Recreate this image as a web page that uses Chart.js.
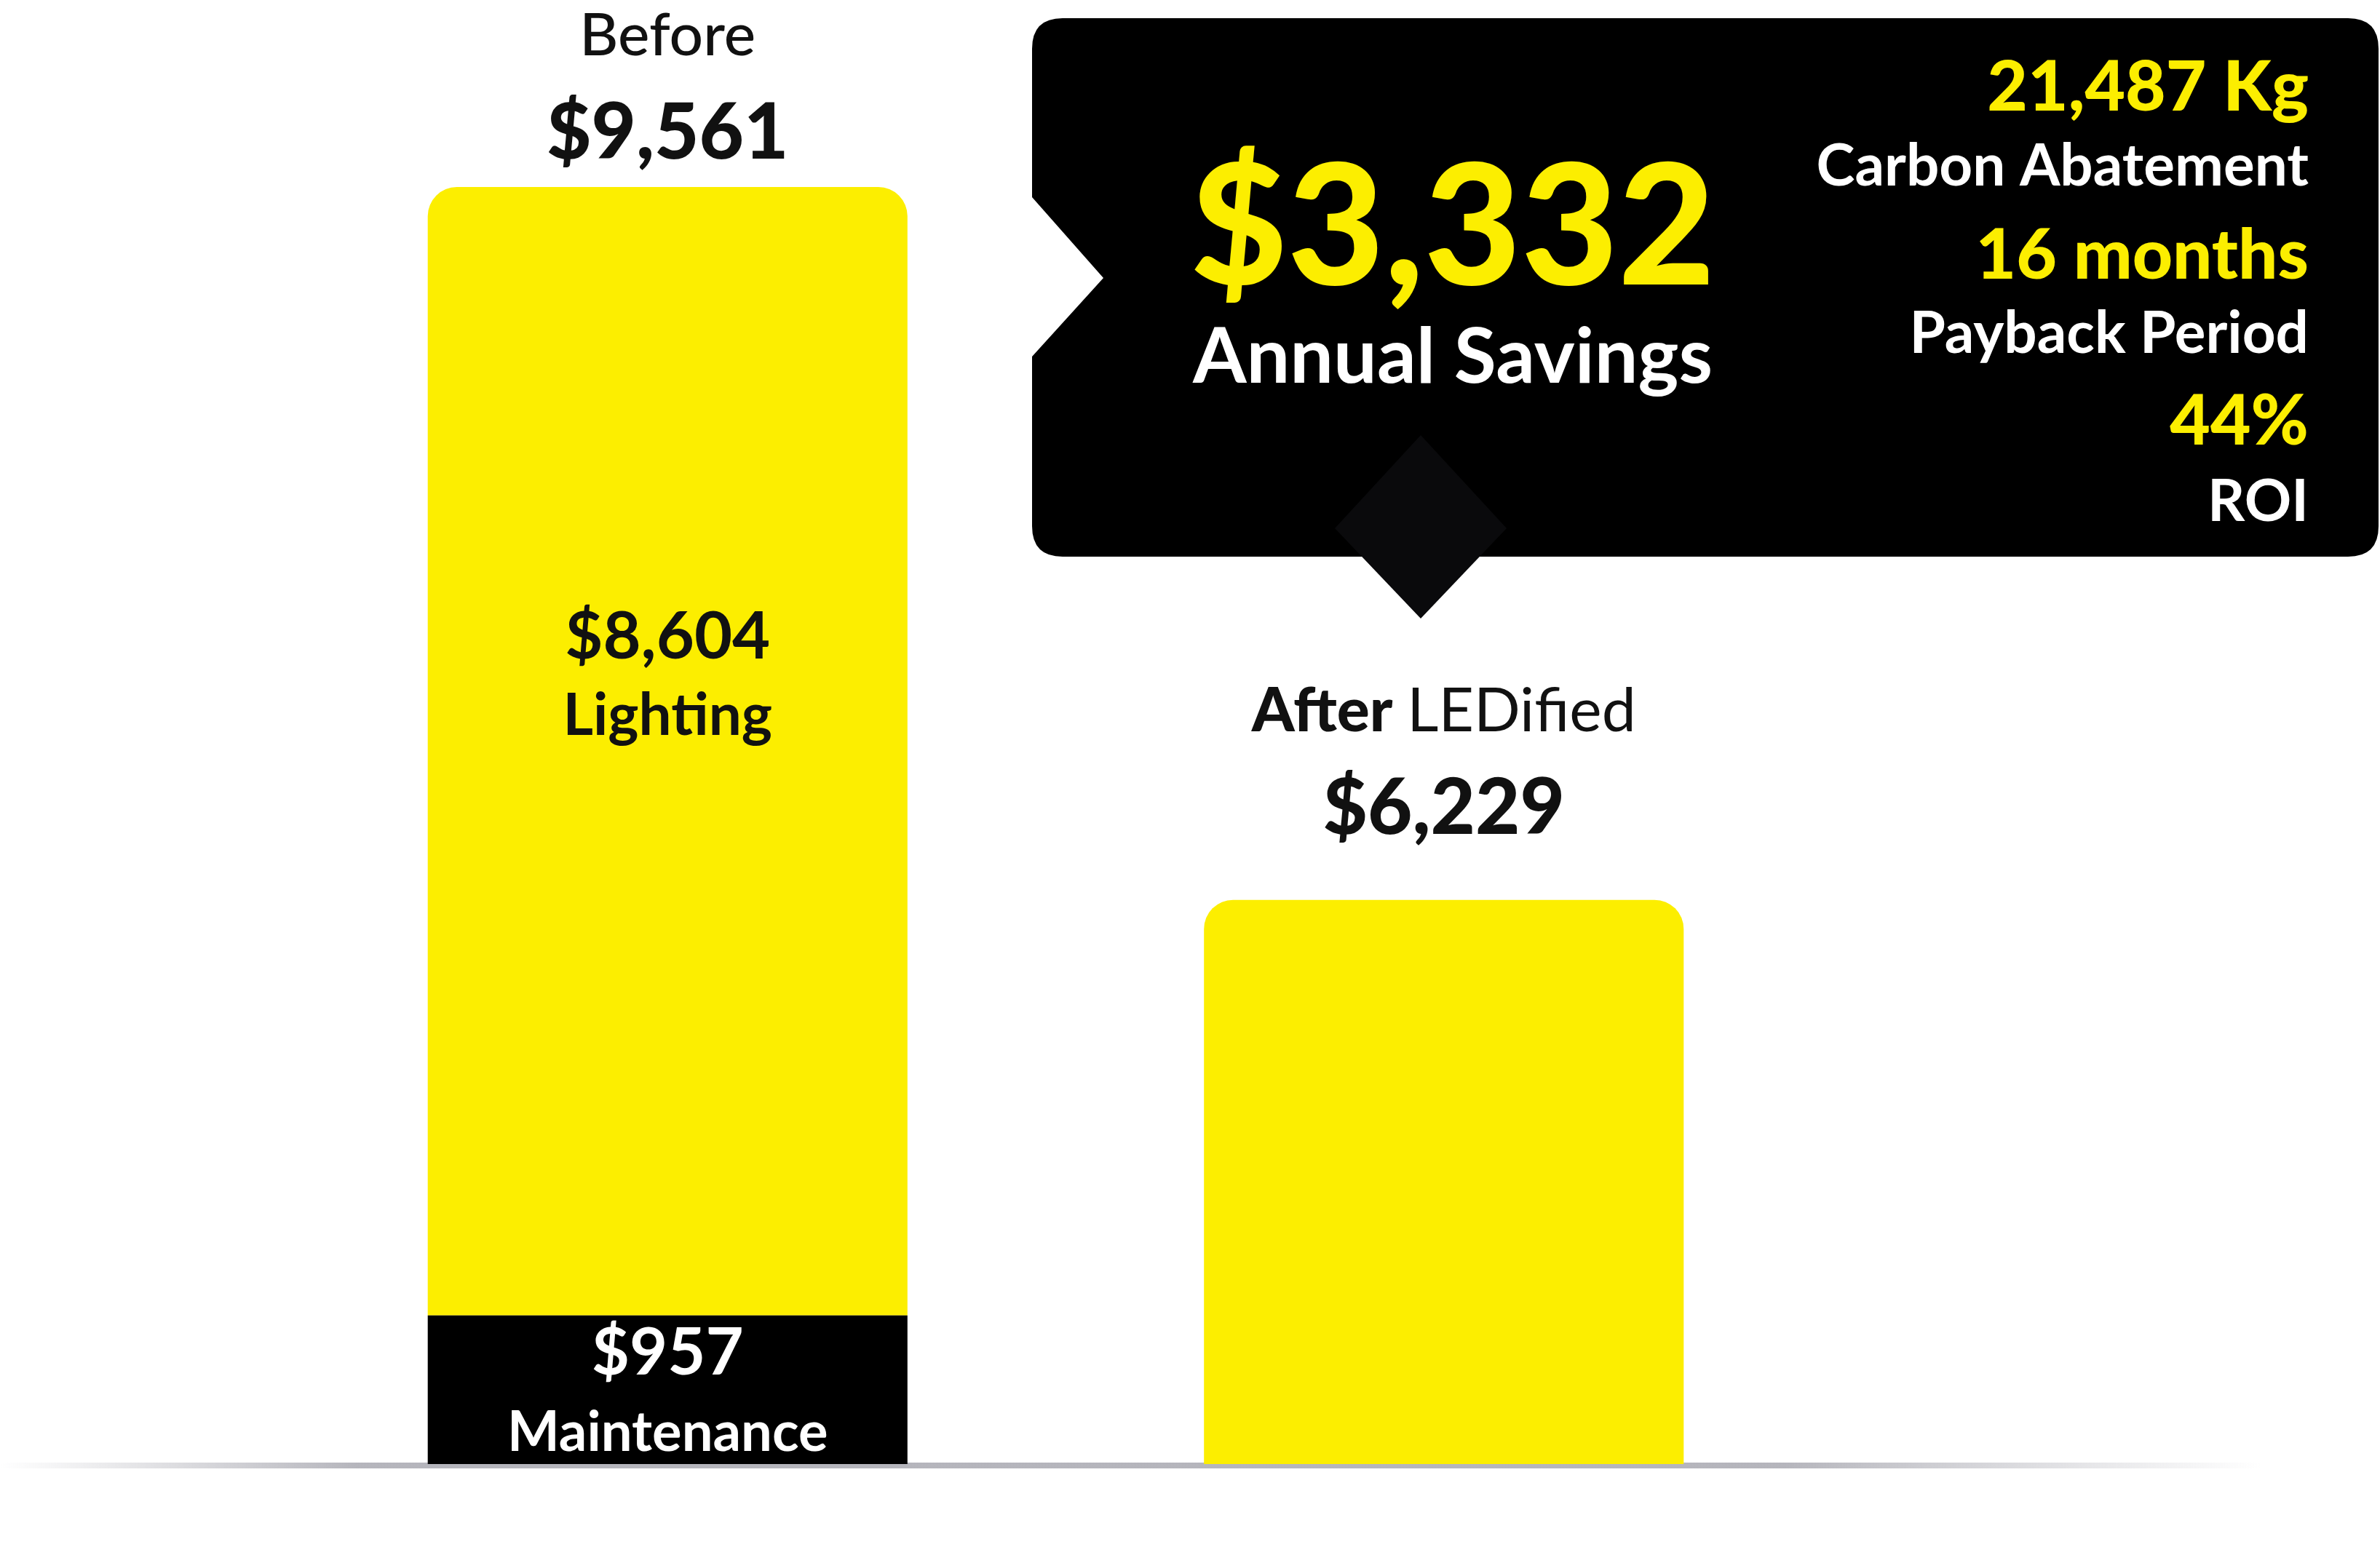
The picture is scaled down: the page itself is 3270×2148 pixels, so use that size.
<!DOCTYPE html>
<html>
<head>
<meta charset="utf-8">
<script src="https://cdn.jsdelivr.net/npm/chart.js@4/dist/chart.umd.min.js"></script>
<style>
  html, body { margin: 0; padding: 0; background: #fff; }
  #wrap { width: 3270px; height: 2148px; }
</style>
</head>
<body>
<div id="wrap"><canvas id="chart" width="3270" height="2148"></canvas></div>
<script>
const YELLOW = "#fcee00";
const FONT = "Lato, 'Open Sans', sans-serif";

const categories = ["Before", "After"];
// amounts printed on the chart
const lightingCost = [8604, 6229];
const maintenanceCost = [957, 0];
const totalCost = [9561, 6229];
// bar heights as drawn in the picture (not to scale with the amounts)
const lightingHeight = [8448, 4224];
const maintenanceHeight = [1113, 0];
const savings = "$3,332";
const stats = [
  ["21,487 Kg", "Carbon Abatement"],
  ["16 months", "Payback Period"],
  ["44%", "ROI"],
];

const money = (v) => "$" + v.toLocaleString("en-US");

function calloutPath(ctx, x, y, w, h, r) {
  ctx.beginPath();
  ctx.moveTo(x + r, y);
  ctx.lineTo(x + w - r, y);
  ctx.quadraticCurveTo(x + w, y, x + w, y + r);
  ctx.lineTo(x + w, y + h - r);
  ctx.quadraticCurveTo(x + w, y + h, x + w - r, y + h);
  ctx.lineTo(x + r, y + h);
  ctx.quadraticCurveTo(x, y + h, x, y + h - r);
  ctx.lineTo(x, 490);
  ctx.lineTo(x + 98, 382);
  ctx.lineTo(x, 271);
  ctx.lineTo(x, y + r);
  ctx.quadraticCurveTo(x, y, x + r, y);
  ctx.closePath();
}

function text(ctx, str, x, y, size, weight, color, align) {
  ctx.font = `${weight} ${size}px ${FONT}`;
  ctx.fillStyle = color;
  ctx.textAlign = align || "center";
  ctx.textBaseline = "middle";
  ctx.fillText(str, x, y);
}

const backdrop = {
  id: "backdrop",
  beforeDatasetsDraw(chart) {
    const ctx = chart.ctx;
    const y0 = chart.scales.y.getPixelForValue(0);
    const gx = ctx.createLinearGradient(0, 0, 3270, 0);
    gx.addColorStop(0, "rgba(160,160,170,0)");
    gx.addColorStop(0.15, "rgba(150,150,160,0.7)");
    gx.addColorStop(0.75, "rgba(150,150,160,0.7)");
    gx.addColorStop(0.95, "rgba(160,160,170,0)");
    ctx.fillStyle = gx;
    ctx.fillRect(0, y0 - 2, 3270, 8);
  },
  afterDraw(chart) {
    const ctx = chart.ctx;
    const xs = chart.scales.x;
    const bx = xs.getPixelForValue(0), ax = xs.getPixelForValue(1);

    text(ctx, categories[0], bx, 50, 82, 500, "#111");
    text(ctx, money(totalCost[0]), bx, 184, 106, 900, "#111");
    text(ctx, money(lightingCost[0]), bx, 876, 90, 700, "#111");
    text(ctx, "Lighting", bx, 984, 80, 700, "#111");
    text(ctx, money(maintenanceCost[0]), bx, 1860, 90, 700, "#fff");
    text(ctx, "Maintenance", bx, 1969, 76, 700, "#fff");

    ctx.font = `900 84px ${FONT}`;
    const w1 = ctx.measureText("After ").width;
    ctx.font = `400 84px ${FONT}`;
    const w2 = ctx.measureText("LEDified").width;
    const sx = ax - (w1 + w2) / 2;
    text(ctx, "After ", sx, 978, 84, 900, "#111", "left");
    text(ctx, "LEDified", sx + w1, 978, 84, 400, "#111", "left");
    text(ctx, money(totalCost[1]), ax, 1112, 106, 900, "#111");

    ctx.fillStyle = "#000";
    calloutPath(ctx, 1418, 25, 1850, 740, 42);
    ctx.fill();
    ctx.fillStyle = "#0a0a0c";
    ctx.beginPath();
    ctx.moveTo(1952, 598);
    ctx.lineTo(2070, 726);
    ctx.lineTo(1952, 850);
    ctx.lineTo(1834, 726);
    ctx.closePath();
    ctx.fill();

    text(ctx, savings, 1996, 317, 230, 900, YELLOW);
    text(ctx, "Annual Savings", 1996, 492, 106, 700, "#fff");
    const rows = [[121, 229], [352, 459], [580, 690]];
    stats.forEach((s, i) => {
      text(ctx, s[0], 3172, rows[i][0], 96, 900, YELLOW, "right");
      text(ctx, s[1], 3172, rows[i][1], 80, 700, "#fff", "right");
    });
  }
};

new Chart(document.getElementById("chart"), {
  type: "bar",
  data: {
    labels: categories,
    datasets: [
      {
        label: "Maintenance",
        data: maintenanceHeight,
        backgroundColor: "#000",
        borderRadius: 0,
        borderSkipped: false,
        barPercentage: 0.618,
        categoryPercentage: 1,
      },
      {
        label: "Lighting",
        data: lightingHeight,
        backgroundColor: YELLOW,
        borderRadius: { topLeft: 40, topRight: 40, bottomLeft: 0, bottomRight: 0 },
        borderSkipped: false,
        barPercentage: 0.618,
        categoryPercentage: 1,
      },
    ],
  },
  options: {
    responsive: false,
    animation: false,
    layout: { padding: { left: 384, right: 753, top: 257, bottom: 136 } },
    plugins: { legend: { display: false }, tooltip: { enabled: false } },
    scales: {
      x: { stacked: true, display: false },
      y: { stacked: true, display: false, min: 0, max: lightingHeight[0] + maintenanceHeight[0] },
    },
  },
  plugins: [backdrop],
});
</script>
</body>
</html>
